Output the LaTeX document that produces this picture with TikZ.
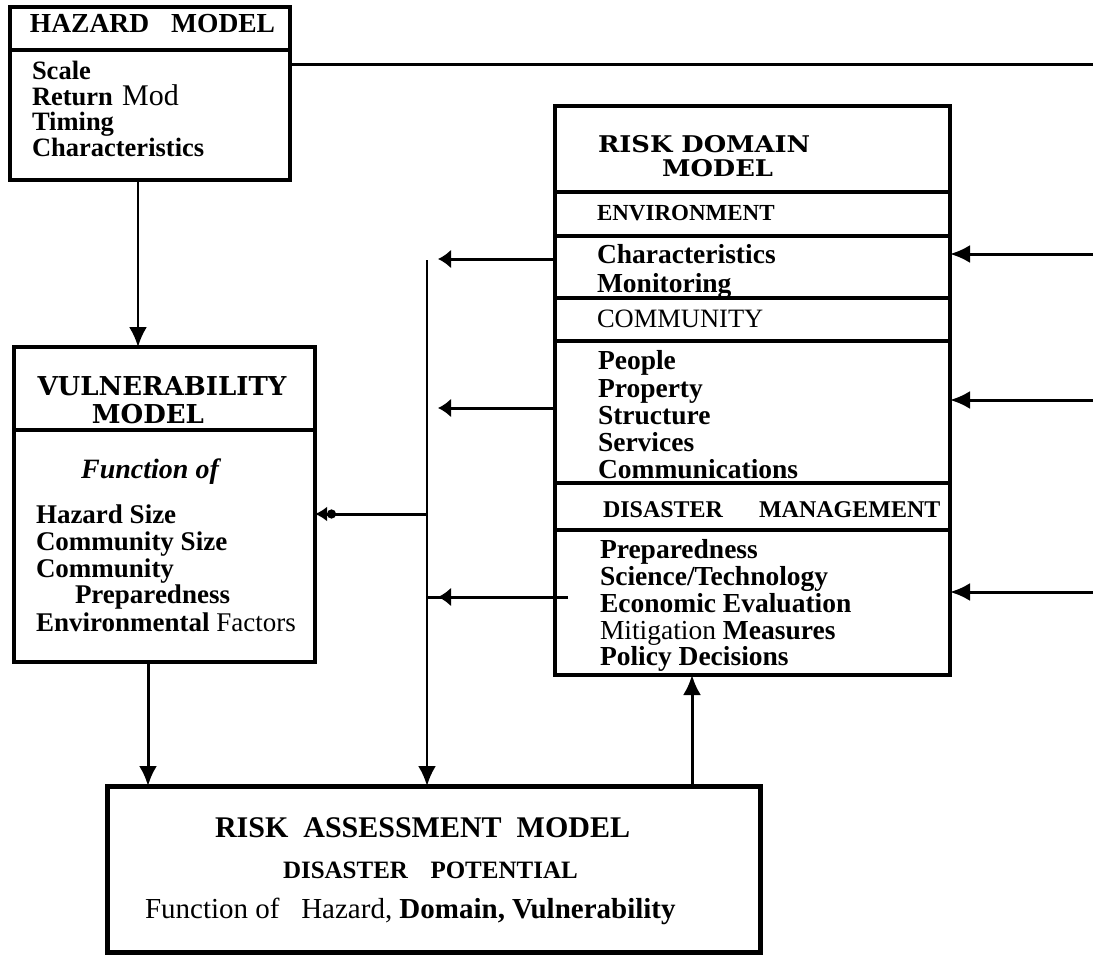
\documentclass[tikz,border=0pt]{standalone}
\usepackage{fontspec}
\setmainfont{Liberation Serif}
\newfontfamily\centfont{DejaVu Serif}
\newfontfamily\centwide[FakeStretch=1.12]{DejaVu Serif}
\usetikzlibrary{arrows.meta}
\newcommand{\fs}[1]{\fontsize{#1}{#1}\selectfont}
\begin{document}
\begin{tikzpicture}[x=1pt,y=-1pt,
  box/.style={draw, line width=4pt, rectangle, inner sep=0pt, outer sep=0pt},
  txt/.style={anchor=base west, inner sep=0pt, outer sep=0pt},
  ctxt/.style={anchor=base, inner sep=0pt, outer sep=0pt},
  conn/.style={line width=3pt},
  arr/.style={conn, -{Latex[length=20pt,width=18pt]}},
  sarr/.style={conn, -{Latex[length=13pt,width=19pt]}},
  divl/.style={line width=4pt},
]
\useasboundingbox (0,0) rectangle (1093,955);

% boxes
\node[box, minimum width=280pt, minimum height=173pt] (haz) at (150,93.5) {};
\node[box, minimum width=301pt, minimum height=315pt] (vul) at (164.5,504.5) {};
\node[box, minimum width=395pt, minimum height=569pt] (dom) at (752.5,390.5) {};
\node[box, line width=5pt, minimum width=653pt, minimum height=166pt] (risk) at (433.5,869) {};

% dividers
\draw[divl] (haz.west |- 0,50) -- (haz.east |- 0,50);
\draw[divl] (vul.west |- 0,430) -- (vul.east |- 0,430);
\foreach \yy in {192,236,298,341,483,530}
  \draw[divl] (dom.west |- 0,\yy) -- (dom.east |- 0,\yy);

% hazard text
\node[txt] (hzt) at (30,33) {\fs{27.5}\bfseries HAZARD\hspace{0.8em}MODEL};
\node[txt] (hz1) at (32,80) {\fs{26.5}\bfseries Scale};
\node[txt] (hz2) at (32,105.5) {\fs{26.5}\bfseries Return\hspace{0.35em}{\mdseries\fs{30}Mod}};
\node[txt] (hz3) at (32,131) {\fs{26.5}\bfseries Timing};
\node[txt] (hz4) at (32,157) {\fs{26.5}\bfseries Characteristics};

% vulnerability text
\node[ctxt] (vt1) at (162,395) {\fs{26}\centfont\bfseries VULNERABILITY};
\node[ctxt] (vt2) at (148,423) {\fs{26}\centfont\bfseries MODEL};
\node[ctxt] (vfn) at (150,478) {\fs{28}\bfseries\itshape Function of};
\node[txt] (v1) at (36,523) {\fs{27}\bfseries Hazard Size};
\node[txt] (v2) at (36,550) {\fs{27}\bfseries Community Size};
\node[txt] (v3) at (36,577) {\fs{27}\bfseries Community};
\node[txt] (v4) at (75,603) {\fs{27}\bfseries Preparedness};
\node[txt] (v5) at (36,631) {\fs{27}\bfseries Environmental {\mdseries Factors}};

% risk domain text
\node[txt] (dt1) at (598,153) {\fs{23}\centwide\bfseries RISK DOMAIN};
\node[txt] (dt2) at (662,177) {\fs{23}\centwide\bfseries MODEL};
\node[txt] (den) at (597,220) {\fs{23}\bfseries ENVIRONMENT};
\node[txt] (de1) at (597,263) {\fs{27.5}\bfseries Characteristics};
\node[txt] (de2) at (597,292) {\fs{27.5}\bfseries Monitoring};
\node[txt] (dco) at (597,327) {\fs{26.5}COMMUNITY};
\node[txt] (dc1) at (598,369) {\fs{27.5}\bfseries People};
\node[txt] (dc2) at (598,397) {\fs{27.5}\bfseries Property};
\node[txt] (dc3) at (598,424) {\fs{27.5}\bfseries Structure};
\node[txt] (dc4) at (598,451) {\fs{27.5}\bfseries Services};
\node[txt] (dc5) at (598,478) {\fs{27.5}\bfseries Communications};
\node[txt] (ddm) at (603,517) {\fs{24}\bfseries DISASTER\hspace{1.5em}MANAGEMENT};
\node[txt] (dm1) at (600,558) {\fs{27.5}\bfseries Preparedness};
\node[txt] (dm2) at (600,585) {\fs{27.5}\bfseries Science/Technology};
\node[txt] (dm3) at (600,612) {\fs{27.5}\bfseries Economic Evaluation};
\node[txt] (dm4) at (600,639) {\fs{27.5}Mitigation {\bfseries Measures}};
\node[txt] (dm5) at (600,665) {\fs{27.5}\bfseries Policy Decisions};

% risk assessment text
\node[txt] (ra1) at (215,837) {\fs{30}\bfseries RISK\hspace{0.5em}ASSESSMENT\hspace{0.5em}MODEL};
\node[txt] (ra2) at (283,878) {\fs{25}\bfseries DISASTER\hspace{0.9em}POTENTIAL};
\node[txt] (ra3) at (145,918) {\fs{29}Function of\hspace{0.5em} Hazard, {\bfseries Domain, Vulnerability}};

% connectors
\coordinate (hzr) at (1093,65);
\draw[conn] (haz.east |- hzr) -- (hzr);
\coordinate (r1) at (1093,254);
\coordinate (r2) at (1093,400);
\coordinate (r3) at (1093,592);
\draw[arr] (r1) -- (dom.east |- r1);
\draw[arr] (r2) -- (dom.east |- r2);
\draw[arr] (r3) -- (dom.east |- r3);

\coordinate (vtop) at (427,260);
\coordinate (l1) at (438,259);
\coordinate (l2) at (438,408);
\coordinate (l3s) at (568,597);
\coordinate (l3) at (438,597);
\draw[sarr] (dom.west |- l1) -- (l1);
\draw[sarr] (dom.west |- l2) -- (l2);
\draw[conn] (vtop |- l3) -- (l3s);
\draw[sarr] (l3s) -- (l3);
\draw[arr, line width=2.7pt] (vtop) -- (vtop |- risk.north);
\draw[conn, -{Circle[length=9pt] Latex[length=12pt,width=15pt]}] (vtop |- 0,514) -- (vul.east |- 0,514);

\draw[arr, line width=2.5pt] (haz.south -| 138,0) -- (vul.north -| 138,0);
\draw[arr] (vul.south -| 148,0) -- (risk.north -| 148,0);
\draw[arr] (risk.north -| 692,0) -- (dom.south -| 692,0);
\end{tikzpicture}
\end{document}
